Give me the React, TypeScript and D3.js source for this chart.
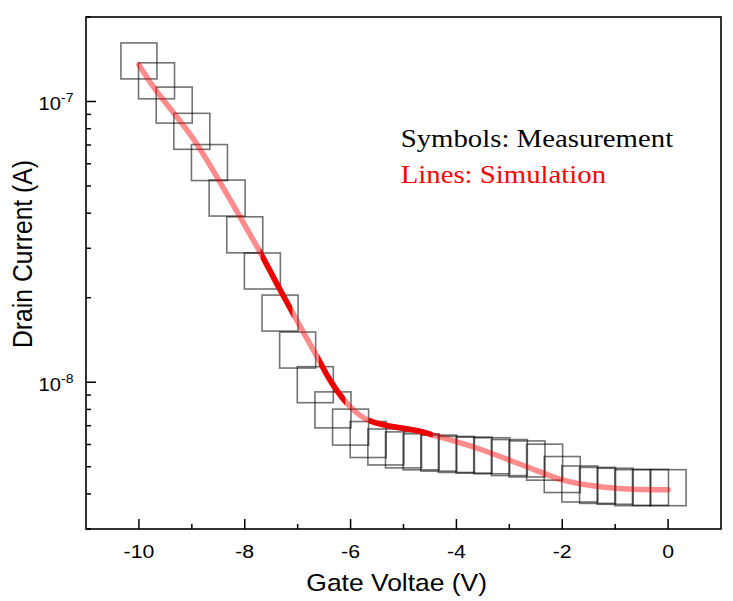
import React from "react";
import * as d3 from "d3";

// ---- data ----
const measVoltage = [
  -10, -9.667, -9.333, -9, -8.667, -8.333, -8, -7.667, -7.333, -7, -6.667,
  -6.333, -6, -5.667, -5.333, -5, -4.667, -4.333, -4, -3.667, -3.333, -3,
  -2.667, -2.333, -2, -1.667, -1.333, -1, -0.667, -0.333, 0,
];
const measCurrent = [
  1.395e-7, 1.185e-7, 9.71e-8, 7.83e-8, 6.06e-8, 4.53e-8, 3.35e-8, 2.49e-8,
  1.763e-8, 1.302e-8, 9.8e-9, 7.97e-9, 6.92e-9, 6.25e-9, 5.88e-9, 5.74e-9,
  5.65e-9, 5.59e-9, 5.53e-9, 5.5e-9, 5.47e-9, 5.39e-9, 5.33e-9, 5.19e-9,
  4.69e-9, 4.34e-9, 4.29e-9, 4.26e-9, 4.21e-9, 4.22e-9, 4.21e-9,
];
const simVoltage = [
  -10, -9.85, -8.91, -8.09, -7.66, -7.33, -7.0, -6.66, -6.39, -6.01, -5.65,
  -4.68, -4.35, -3.62, -2.68, -2.02, -1.36, -0.67, 0,
];
const simCurrent = [
  1.35e-7, 1.22e-7, 7.07e-8, 3.88e-8, 2.79e-8, 2.13e-8, 1.638e-8, 1.26e-8,
  1.019e-8, 8.19e-9, 7.3e-9, 6.68e-9, 6.41e-9, 5.83e-9, 5.01e-9, 4.5e-9,
  4.26e-9, 4.16e-9, 4.14e-9,
];
// voltage ranges where the simulated line appears fully saturated
const darkRanges = [
  [-7.7, -7.1],
  [-6.6, -6.1],
  [-5.65, -4.45],
];
const xMajorTicks = [-10, -8, -6, -4, -2, 0];
const xMinorTicks = [-9, -7, -5, -3, -1];
const yMajorTicks = [1e-8, 1e-7];
const yMajorExp = ["-8", "-7"];
const xDomain = [-11, 1];
const yDomain = [3e-9, 2e-7];
const xTitle = "Gate Voltae (V)";
const yTitle = "Drain Current (A)";
const legendLines = ["Symbols: Measurement", "Lines: Simulation"];

const W = 733;
const H = 601;
const L = 86, R = 721, T = 17, B = 529;
const SX = 1.12;

export default function App() {
  const x = d3.scaleLinear().domain(xDomain).range([L, R]);
  const y = d3.scaleLog().domain(yDomain).range([B, T]);
  const yMinor = y.ticks().filter((t) => !yMajorTicks.some((m) => Math.abs(m - t) / m < 1e-6));

  const simPts = simVoltage.map((v, i) => [v, simCurrent[i]] as [number, number]);
  const line = d3
    .line<[number, number]>()
    .x((d) => x(d[0]))
    .y((d) => y(d[1]))
    .curve(d3.curveMonotoneX);

  const sq = 36;
  const sans = "'Liberation Sans', Arial, sans-serif";
  const serif = "'Liberation Serif', 'Times New Roman', serif";

  return (
    <svg width={W} height={H} style={{ position: "absolute", left: 0, top: 0, background: "#fff" }}>
      <defs>
        {darkRanges.map((r, i) => (
          <clipPath id={`dk${i}`} key={i}>
            <rect x={x(r[0])} y={0} width={x(r[1]) - x(r[0])} height={H} />
          </clipPath>
        ))}
      </defs>
      {/* measurement squares */}
      <g fill="none" stroke="#000" strokeOpacity={0.55} strokeWidth={1.6}>
        {measVoltage.map((v, i) => (
          <rect key={i} x={x(v) - sq / 2} y={y(measCurrent[i]) - sq / 2} width={sq} height={sq} />
        ))}
      </g>
      {/* simulation line */}
      <path d={line(simPts) || ""} fill="none" stroke="#ff0000" strokeOpacity={0.45} strokeWidth={5.5} strokeLinecap="round" strokeLinejoin="round" />
      {darkRanges.map((r, i) => (
        <path key={i} clipPath={`url(#dk${i})`} d={line(simPts) || ""} fill="none" stroke="#ee0000" strokeWidth={5.5} strokeLinecap="round" strokeLinejoin="round" />
      ))}
      {/* frame */}
      <rect x={L} y={T} width={R - L} height={B - T} fill="none" stroke="#000" strokeWidth={1.6} />
      {/* x ticks */}
      <g stroke="#000" strokeWidth={1.5}>
        {xMajorTicks.map((t) => (
          <line key={t} x1={x(t)} x2={x(t)} y1={B} y2={B - 10} />
        ))}
        {xMinorTicks.map((t) => (
          <line key={t} x1={x(t)} x2={x(t)} y1={B} y2={B - 5} />
        ))}
        {yMajorTicks.map((t) => (
          <line key={t} x1={L} x2={L + 10} y1={y(t)} y2={y(t)} />
        ))}
        {yMinor.map((t) => (
          <line key={t} x1={L} x2={L + 5} y1={y(t)} y2={y(t)} />
        ))}
      </g>
      {/* x tick labels */}
      <g fontFamily={sans} fontSize={19} fill="#000" textAnchor="middle">
        {xMajorTicks.map((t) => (
          <text key={t} transform={`translate(${x(t)},558.3) scale(${SX},1)`}>
            {t === 0 ? "0" : String(t)}
          </text>
        ))}
      </g>
      {/* y tick labels */}
      <g fontFamily={sans} fontSize={18} fill="#000" textAnchor="end">
        {yMajorTicks.map((t, i) => (
          <text key={t} transform={`translate(73.5,${y(t) + 8.3}) scale(${SX},1)`}>
            10
            <tspan fontSize={12.5} dy={-7.5}>
              {yMajorExp[i]}
            </tspan>
          </text>
        ))}
      </g>
      {/* axis titles */}
      <text fontFamily={sans} fontSize={23.6} textAnchor="middle" transform={`translate(396.7,590.7) scale(${SX},1)`}>
        {xTitle}
      </text>
      <text fontFamily={sans} fontSize={24.7} textAnchor="middle" transform={`translate(32,254) scale(${SX},1) rotate(-90)`}>
        {yTitle}
      </text>
      {/* legend text */}
      <text fontFamily={serif} fontSize={25.7} fill="#000" transform={`translate(400.7,147.3) scale(${SX},1)`}>
        {legendLines[0]}
      </text>
      <text fontFamily={serif} fontSize={25.7} fill="#ff0000" transform={`translate(400.7,183.3) scale(${SX},1)`}>
        {legendLines[1]}
      </text>
    </svg>
  );
}
